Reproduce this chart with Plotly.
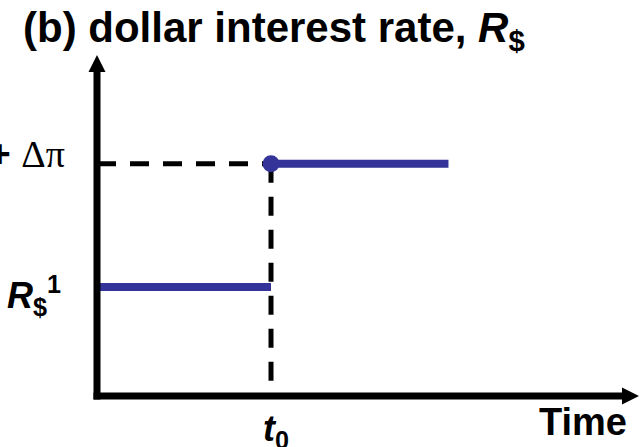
import plotly.graph_objects as go

# values (arbitrary units: t0 = 1, R$1 = 1)
t_points = [0.0, 1.0, 2.02]          # axis origin, t0, end of the new path
rate_levels = [1.0, 2.13]            # R$1, R$1 + dpi
rate_labels = ["<b><i>R</i><sub>$</sub><sup>1</sup></b>",
               "<b><i>R</i><sub>$</sub><sup>1</sup> +</b> <span style='font-family:Liberation Serif'>\u0394\u03c0</span>"]
time_labels = ["<b><i>t</i><sub>0</sub></b>", "<b>Time</b>"]
title_text = "<b>(b) dollar interest rate, <i>R</i><sub>$</sub></b>"

W, H = 644, 447
L, R, T, B = 97, 4, 55, 51
PW, PH = W - L - R, H - T - B


def px(x):
    return (x - L) / PW


def py(y):
    return (H - B - y) / PH


BLUE = "#333399"
FONT = "Liberation Sans, Arial, sans-serif"

t0 = t_points[1]
r1, r2 = rate_levels

fig = go.Figure()
# dashed guides
fig.add_trace(go.Scatter(x=[t_points[0], t0], y=[r2, r2], mode="lines",
                         line=dict(color="black", width=5, dash="19px,14px")))
fig.add_trace(go.Scatter(x=[t0, t0], y=[r2, 0], mode="lines",
                         line=dict(color="black", width=5, dash="19px,14px")))
# the interest rate path
fig.add_trace(go.Scatter(x=[t_points[0], t0], y=[r1, r1], mode="lines",
                         line=dict(color=BLUE, width=8)))
fig.add_trace(go.Scatter(x=[t0, t_points[2]], y=[r2, r2], mode="lines",
                         line=dict(color=BLUE, width=8)))
fig.add_trace(go.Scatter(x=[t0], y=[r2], mode="markers",
                         marker=dict(color=BLUE, size=17)))

# axes with arrows
ax_w = 7
shapes = [
    dict(type="line", xref="paper", yref="paper", x0=0, x1=0,
         y0=py(H - B + 3.5), y1=py(70), line=dict(color="black", width=ax_w)),
    dict(type="line", xref="paper", yref="paper", x0=px(L - 3.5), x1=px(624),
         y0=0, y1=0, line=dict(color="black", width=ax_w)),
    dict(type="path", xref="paper", yref="paper",
         path=f"M 0 {py(55)} L {px(L + 8.5)} {py(72)} L {px(L - 8.5)} {py(72)} Z",
         fillcolor="black", line=dict(width=0)),
    dict(type="path", xref="paper", yref="paper",
         path=f"M {px(639)} 0 L {px(622)} {py(H - B - 8.5)} L {px(622)} {py(H - B + 8.5)} Z",
         fillcolor="black", line=dict(width=0)),
]

annotations = [
    dict(text=title_text, xref="paper", yref="paper", x=px(21), y=py(30),
         xanchor="left", yanchor="middle", showarrow=False,
         font=dict(size=42, family=FONT, color="black")),
    dict(text=rate_labels[0], xref="paper", yref="y", x=px(63), y=r1,
         xanchor="right", yanchor="middle", yshift=-8, showarrow=False,
         font=dict(size=36, family=FONT, color="black")),
    dict(text=rate_labels[1], xref="paper", yref="y", x=px(67), y=r2,
         xanchor="right", yanchor="middle", yshift=10, showarrow=False,
         font=dict(size=38, family=FONT, color="black")),
    dict(text=time_labels[0], xref="x", yref="paper", x=t0, y=py(406),
         xanchor="center", yanchor="top", xshift=5, showarrow=False,
         font=dict(size=36, family=FONT, color="black")),
    dict(text=time_labels[1], xref="paper", yref="paper", x=px(629), y=py(422),
         xanchor="right", yanchor="middle", showarrow=False,
         font=dict(size=38, family=FONT, color="black")),
]

fig.update_layout(
    width=W, height=H,
    margin=dict(l=L, r=R, t=T, b=B),
    paper_bgcolor="white", plot_bgcolor="white",
    showlegend=False,
    xaxis=dict(range=[0, PW / 174], visible=False, fixedrange=True),
    yaxis=dict(range=[0, PH / 109], visible=False, fixedrange=True),
    shapes=shapes,
    annotations=annotations,
)

fig.write_html("out.html", config={"displayModeBar": False},
               post_script="document.body.style.margin='0';")
